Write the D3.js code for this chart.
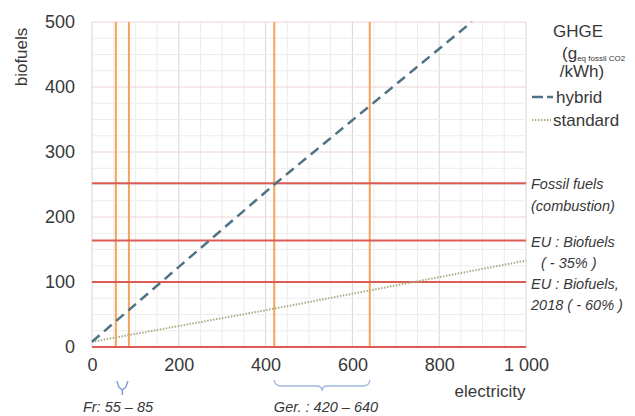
<!DOCTYPE html>
<html>
<head>
<meta charset="utf-8">
<script src="https://cdn.jsdelivr.net/npm/d3@7"></script>
<style>
  body { margin: 0; background: #fff; }
  text { font-family: "Liberation Sans", Arial, sans-serif; fill: #383838; }
</style>
</head>
<body>
<div id="chart"></div>
<script>
// data
var hybrid = [[0, 8], [420, 250], [875, 500]];
var standard = [[0, 8], [420, 59], [1000, 133]];
var limits = [0, 100, 164, 252];          // horizontal red lines
var mixes = [55, 85, 420, 640];           // orange verticals
var xTicks = [0, 200, 400, 600, 800, 1000];
var yTicks = [0, 100, 200, 300, 400, 500];

var width = 635, height = 416;

var svg = d3.select("#chart")
  .append("svg")
    .attr("width", width)
    .attr("height", height);

var x = d3.scaleLinear().domain([0, 1000]).range([92, 526]);
var y = d3.scaleLinear().domain([0, 500]).range([347, 22]);

// minor grid
svg.append("g")
  .selectAll("line")
  .data(d3.range(0, 1001, 50))
  .enter().append("line")
    .attr("x1", d => x(d)).attr("x2", d => x(d))
    .attr("y1", y(0)).attr("y2", y(500))
    .attr("stroke", d => d % 200 === 0 ? "#d6d6d6" : "#ececec")
    .attr("stroke-width", 1);

svg.append("g")
  .selectAll("line")
  .data(d3.range(0, 501, 25))
  .enter().append("line")
    .attr("x1", x(0)).attr("x2", x(1000))
    .attr("y1", d => y(d)).attr("y2", d => y(d))
    .attr("stroke", d => d % 100 === 0 ? "#ecd4d4" : "#ececec")
    .attr("stroke-width", 1);

// axes (labels only)
var xAxis = svg.append("g")
  .attr("transform", "translate(0," + (y(0) + 6) + ")")
  .call(d3.axisBottom(x).tickValues(xTicks).tickSize(0)
    .tickFormat(d => d === 1000 ? "1 000" : d));
xAxis.select(".domain").remove();
xAxis.selectAll("text")
  .style("font-size", "18px")
  .style("font-family", "Liberation Sans, Arial, sans-serif")
  .attr("fill", "#383838")
  .attr("dy", "0.85em");

var yAxis = svg.append("g")
  .attr("transform", "translate(" + (x(0) - 14) + ",0)")
  .call(d3.axisLeft(y).tickValues(yTicks).tickSize(0));
yAxis.select(".domain").remove();
yAxis.selectAll("text")
  .style("font-size", "18px")
  .style("font-family", "Liberation Sans, Arial, sans-serif")
  .attr("fill", "#383838");

// axis titles
svg.append("text")
  .attr("transform", "translate(27,57) rotate(-90)")
  .attr("text-anchor", "middle")
  .style("font-size", "17px")
  .text("biofuels");

svg.append("text")
  .attr("x", 490).attr("y", 397)
  .attr("text-anchor", "middle")
  .style("font-size", "17px")
  .text("electricity");

// orange verticals
svg.append("g")
  .selectAll("line")
  .data(mixes)
  .enter().append("line")
    .attr("x1", d => x(d)).attr("x2", d => x(d))
    .attr("y1", y(0)).attr("y2", y(500))
    .attr("stroke", "#f4a35a")
    .attr("stroke-width", 2);

// red horizontals
svg.append("g")
  .selectAll("line")
  .data(limits)
  .enter().append("line")
    .attr("x1", x(0)).attr("x2", x(1000))
    .attr("y1", d => y(d)).attr("y2", d => y(d))
    .attr("stroke", "#dd5a55")
    .attr("stroke-width", 2);

var line = d3.line()
  .x(d => x(d[0]))
  .y(d => y(d[1]));

svg.append("path")
  .datum(standard)
  .attr("d", line)
  .attr("fill", "none")
  .attr("stroke", "#a9ad84")
  .attr("stroke-width", 2)
  .attr("stroke-dasharray", "1.5,1.5");

svg.append("path")
  .datum(hybrid)
  .attr("d", line)
  .attr("fill", "none")
  .attr("stroke", "#4f7384")
  .attr("stroke-width", 2.5)
  .attr("stroke-dasharray", "10,6");

// right-side labels
var rightLabels = [
  ["Fossil fuels", 531, 189],
  ["(combustion)", 531, 211],
  ["EU : Biofuels", 531, 247],
  ["( - 35% )", 541, 268],
  ["EU : Biofuels,", 531, 289],
  ["2018 ( - 60% )", 531, 310]
];
svg.append("g")
  .selectAll("text")
  .data(rightLabels)
  .enter().append("text")
    .attr("x", d => d[1]).attr("y", d => d[2])
    .style("font-size", "14.5px")
    .style("font-style", "italic")
    .text(d => d[0]);

// legend
svg.append("text")
  .attr("x", 578).attr("y", 37)
  .attr("text-anchor", "middle")
  .style("font-size", "17px")
  .text("GHGE");

var unit = svg.append("text")
  .attr("x", 562).attr("y", 59)
  .style("font-size", "17px");
unit.append("tspan").text("(g");
unit.append("tspan")
  .attr("dy", 2)
  .style("font-size", "8px")
  .text("eq fossil CO2");

svg.append("text")
  .attr("x", 582).attr("y", 77)
  .attr("text-anchor", "middle")
  .style("font-size", "17px")
  .text("/kWh)");

svg.append("line")
  .attr("x1", 532).attr("x2", 553)
  .attr("y1", 97).attr("y2", 97)
  .attr("stroke", "#4f7384")
  .attr("stroke-width", 2.5)
  .attr("stroke-dasharray", "11,4");
svg.append("text")
  .attr("x", 556).attr("y", 103)
  .style("font-size", "17px")
  .text("hybrid");

svg.append("line")
  .attr("x1", 532).attr("x2", 551)
  .attr("y1", 120).attr("y2", 120)
  .attr("stroke", "#a9ad84")
  .attr("stroke-width", 2)
  .attr("stroke-dasharray", "1.5,1.5");
svg.append("text")
  .attr("x", 553).attr("y", 126)
  .style("font-size", "17px")
  .text("standard");

// braces under the axis
var brace = d3.line();
svg.append("path")
  .attr("d", brace([[x(55) + 1, 381], [x(55) + 3, 387], [x(70), 390], [x(85) - 3, 387], [x(85) - 1, 381]]))
  .attr("fill", "none").attr("stroke", "#7fa3d6").attr("stroke-width", 1.5);
svg.append("line")
  .attr("x1", x(70)).attr("x2", x(70))
  .attr("y1", 390).attr("y2", 395)
  .attr("stroke", "#7fa3d6").attr("stroke-width", 1.5);

svg.append("path")
  .attr("d", "M" + x(420) + ",380 q0,5 6,6 L" + (x(530) - 4) + ",386 q4,1 4,5 q0,-4 4,-5 L" + (x(640) - 6) + ",386 q6,-1 6,-6")
  .attr("fill", "none").attr("stroke", "#9db8de").attr("stroke-width", 1.3);

svg.append("text")
  .attr("x", 118).attr("y", 412)
  .attr("text-anchor", "middle")
  .style("font-size", "14.5px")
  .style("font-style", "italic")
  .text("Fr: 55 \u2013 85");

svg.append("text")
  .attr("x", 326).attr("y", 412)
  .attr("text-anchor", "middle")
  .style("font-size", "14.5px")
  .style("font-style", "italic")
  .text("Ger. : 420 \u2013 640");
</script>
</body>
</html>
